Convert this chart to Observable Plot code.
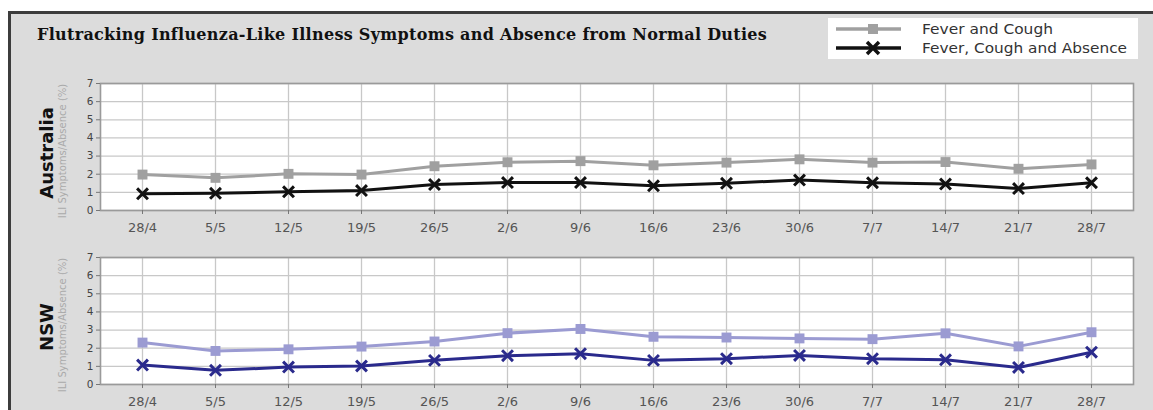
<!DOCTYPE html>
<html>
<head>
<meta charset="utf-8">
<script src="https://cdn.jsdelivr.net/npm/d3@7"></script>
<script src="https://cdn.jsdelivr.net/npm/@observablehq/plot@0.6"></script>
<style>
  html, body { margin: 0; padding: 0; background: #fff; }
  #page { position: relative; width: 1153px; height: 410px; overflow: hidden; background: #fff; }
  #frame { position: absolute; left: 8px; top: 11px; width: 1200px; height: 500px; background: #dcdcdc; border-top: 3px solid #3c3c3c; border-left: 3px solid #3c3c3c; }
  #title { position: absolute; left: 37px; top: 25px; font-family: "DejaVu Serif", serif; font-weight: bold; font-size: 16px; color: #111; white-space: nowrap; letter-spacing: 0.3px; }
  #legend { position: absolute; left: 828px; top: 18px; }
  .panel { position: absolute; left: 0; }
</style>
</head>
<body>
<div id="page">
  <div id="frame"></div>
  <div id="title">Flutracking Influenza-Like Illness Symptoms and Absence from Normal Duties</div>
  <svg id="legend" width="310" height="41" xmlns="http://www.w3.org/2000/svg"></svg>
  <div id="top" class="panel" style="top:73px"></div>
  <div id="bottom" class="panel" style="top:247px"></div>
</div>
<script>
const weeks = ["28/4","5/5","12/5","19/5","26/5","2/6","9/6","16/6","23/6","30/6","7/7","14/7","21/7","28/7"];
const yTicks = [0, 1, 2, 3, 4, 5, 6, 7];
const seriesNames = ["Fever and Cough", "Fever, Cough and Absence"];
const panelNames = ["Australia", "NSW"];
const yLabel = "ILI Symptoms/Absence (%)";

const ausFeverCough = [1.98, 1.80, 2.02, 1.98, 2.44, 2.66, 2.72, 2.49, 2.64, 2.82, 2.64, 2.67, 2.30, 2.54];
const ausAbsence    = [0.92, 0.95, 1.03, 1.10, 1.43, 1.54, 1.54, 1.36, 1.50, 1.68, 1.53, 1.46, 1.21, 1.53];
const nswFeverCough = [2.31, 1.85, 1.94, 2.09, 2.37, 2.83, 3.06, 2.63, 2.59, 2.54, 2.50, 2.82, 2.10, 2.88];
const nswAbsence    = [1.07, 0.78, 0.96, 1.02, 1.33, 1.59, 1.70, 1.33, 1.42, 1.60, 1.42, 1.36, 0.94, 1.78];

const ausColors = ["#a0a0a0", "#111111"];
const nswColors = ["#9b9bd2", "#2a2a8c"];

function panel(name, fc, ab, colors) {
  const r1 = weeks.map((w, i) => ({week: w, v: fc[i]}));
  const r2 = weeks.map((w, i) => ({week: w, v: ab[i]}));
  return Plot.plot({
    width: 1153, height: 167,
    marginLeft: 100, marginRight: 20, marginTop: 10, marginBottom: 30,
    style: {background: "transparent", fontFamily: "DejaVu Sans, sans-serif", color: "#444", overflow: "visible"},
    x: {type: "point", domain: weeks, padding: 0.52, label: null},
    y: {domain: [0, 7], ticks: yTicks, label: null},
    marks: [
      Plot.frame({fill: "white", stroke: null}),
      Plot.gridX({stroke: "#c8c8c8", strokeOpacity: 1, strokeWidth: 1.3}),
      Plot.gridY({ticks: yTicks, stroke: "#c8c8c8", strokeOpacity: 1, strokeWidth: 1.3}),
      Plot.frame({stroke: "#9a9a9a", strokeWidth: 1.6}),
      Plot.axisX({tickSize: 4, tickPadding: 8, fontSize: 13, stroke: "#777", fill: "#555", label: null}),
      Plot.axisY({ticks: yTicks, tickFormat: d3.format("d"), tickSize: 4, tickPadding: 3, fontSize: 10.5, stroke: "#777", fill: "#444", label: null}),
      Plot.line(r1, {x: "week", y: "v", stroke: colors[0], strokeWidth: 3}),
      Plot.dot(r1, {x: "week", y: "v", symbol: "square", fill: colors[0], r: 5.6}),
      Plot.line(r2, {x: "week", y: "v", stroke: colors[1], strokeWidth: 3}),
      Plot.dot(r2, {x: "week", y: "v", symbol: "times", stroke: colors[1], strokeWidth: 3, r: 5}),
      Plot.text([name], {frameAnchor: "left", textAnchor: "middle", rotate: -90, dx: -53, dy: 6, fontWeight: "bold", fontSize: 18, fill: "#111"}),
      Plot.text([yLabel], {frameAnchor: "left", textAnchor: "middle", rotate: -90, dx: -38, dy: 4, fontSize: 10, fill: "#aaa"})
    ]
  });
}

document.getElementById("top").appendChild(panel(panelNames[0], ausFeverCough, ausAbsence, ausColors));
document.getElementById("bottom").appendChild(panel(panelNames[1], nswFeverCough, nswAbsence, nswColors));

// legend
const lg = d3.select("#legend");
lg.append("rect").attr("width", 310).attr("height", 41).attr("fill", "white");
const rows = [{y: 11, c: ausColors[0], s: "square", t: seriesNames[0], len: 131},
              {y: 30, c: ausColors[1], s: "times", t: seriesNames[1], len: 205}];
rows.forEach(d => {
  lg.append("line").attr("x1", 8).attr("x2", 73).attr("y1", d.y).attr("y2", d.y)
    .attr("stroke", d.c).attr("stroke-width", 3.5);
  if (d.s === "square") {
    lg.append("rect").attr("x", 40).attr("y", d.y - 5).attr("width", 10).attr("height", 10).attr("fill", d.c);
  } else {
    lg.append("path").attr("d", `M${39},${d.y-6}L${51},${d.y+6}M${39},${d.y+6}L${51},${d.y-6}`)
      .attr("stroke", d.c).attr("stroke-width", 3.5);
  }
  lg.append("text").attr("x", 94).attr("y", d.y + 5).attr("font-family", "DejaVu Sans, sans-serif")
    .attr("font-size", 14.5).attr("fill", "#333").attr("textLength", d.len).attr("lengthAdjust", "spacingAndGlyphs").text(d.t);
});
</script>
</body>
</html>
